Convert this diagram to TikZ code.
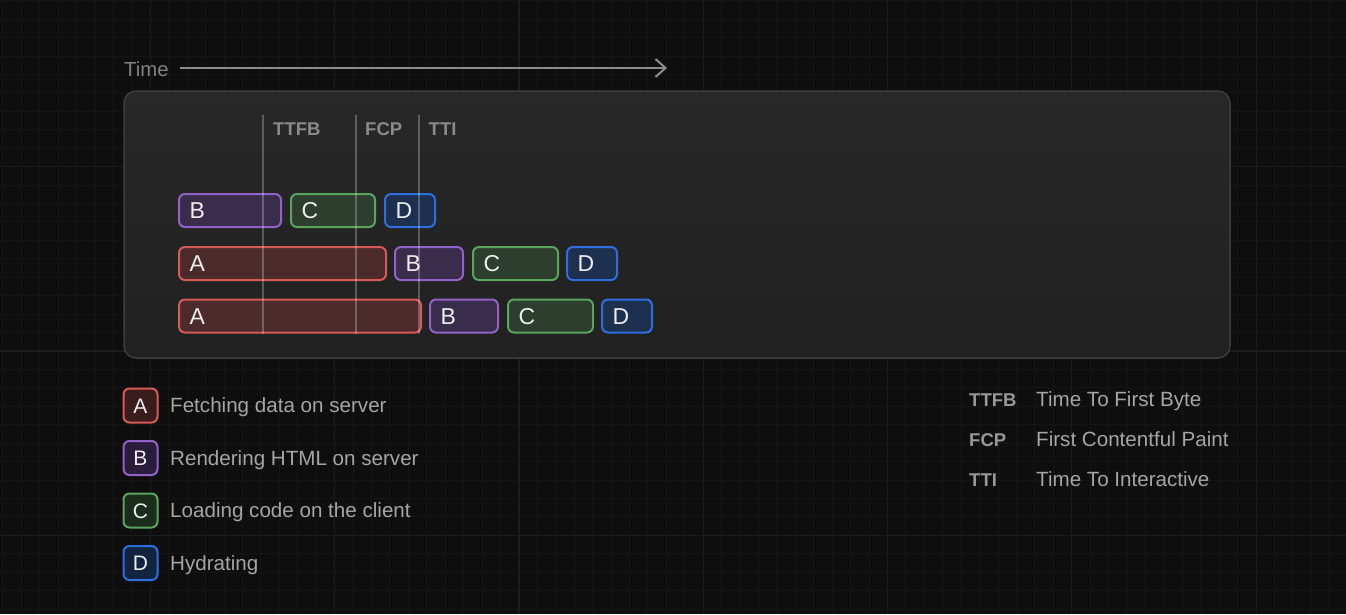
\documentclass[tikz,border=0pt]{standalone}
\usepackage{fontspec}
\setmainfont{Liberation Sans}
\usetikzlibrary{arrows.meta}
\definecolor{bg}{HTML}{0E0E0E}
\definecolor{gridminor}{HTML}{151515}
\definecolor{gridmajor}{HTML}{1C1C1C}
\definecolor{paneltop}{HTML}{282828}
\definecolor{panelbot}{HTML}{212121}
\definecolor{panelborder}{HTML}{3D3D3D}
\definecolor{redb}{HTML}{D85A56}
\definecolor{purpb}{HTML}{9162C9}
\definecolor{greenb}{HTML}{5AA55E}
\definecolor{blueb}{HTML}{2E6FE0}
\definecolor{redf}{HTML}{4B2B2B}
\definecolor{purpf}{HTML}{3A2C4B}
\definecolor{greenf}{HTML}{2D3D2E}
\definecolor{bluef}{HTML}{1E3050}
\definecolor{redl}{HTML}{3A1C1C}
\definecolor{purpl}{HTML}{2A1C3B}
\definecolor{greenl}{HTML}{1B2B1C}
\definecolor{bluel}{HTML}{132440}
\definecolor{txtgray}{HTML}{A5A5A5}
\definecolor{lblgray}{HTML}{8A8A8A}
\definecolor{arrowgray}{HTML}{8C8C8C}
\tikzset{
  bar/.style={draw, line width=2pt, rounded corners=6pt, minimum height=33pt,
    inner ysep=0pt, inner xsep=0pt, anchor=west, text width=#1, align=left,
    font=\fontsize{23}{23}\selectfont, text=white!93!black,
    text height=16.5pt, text depth=0pt},
  legbox/.style={draw, line width=2pt, rounded corners=6pt, minimum width=34pt,
    minimum height=34pt, inner sep=0pt, align=center,
    font=\fontsize{21}{21}\selectfont, text=white!93!black,
    text height=15pt, text depth=0pt},
  legtext/.style={anchor=base west, inner sep=0pt, text=txtgray,
    font=\fontsize{20.6}{24}\selectfont},
  abbr/.style={anchor=base west, inner sep=0pt, text=txtgray!92!black,
    font=\fontsize{18.5}{22}\selectfont\bfseries},
  tlabel/.style={anchor=base west, inner sep=0pt, text=lblgray,
    font=\fontsize{18.5}{22}\selectfont\bfseries},
  vline/.style={draw=white, draw opacity=0.25, line width=2pt},
}
\begin{document}
\begin{tikzpicture}[x=1pt,y=-1pt]
\useasboundingbox (0,0) rectangle (1346,614);
\fill[bg] (0,0) rectangle (1346,614);
% grid
\foreach \i in {-8,...,65}
  \draw[gridminor, line width=1pt] ({150.3+18.43*\i},0) -- ({150.3+18.43*\i},614);
\foreach \j in {-29,...,4}
  \draw[gridminor, line width=1pt] (0,{535.3+18.43*\j}) -- (1346,{535.3+18.43*\j});
\foreach \i in {0,...,6}
  \draw[gridmajor, line width=1.2pt] ({150.3+184.3*\i},0) -- ({150.3+184.3*\i},614);
\foreach \j in {0,...,2}
  \draw[gridmajor, line width=1.2pt] (0,{535.3-184.3*\j}) -- (1346,{535.3-184.3*\j});

% time axis
\node[anchor=base west, inner sep=0pt, text=arrowgray!110!white, font=\fontsize{20.3}{24}\selectfont] (time) at (124,76) {Time};
\coordinate (ts) at (180,68);
\coordinate (te) at (667,68);
\draw[arrowgray, line width=2pt, -{Straight Barb[length=10pt,width=18pt,line width=2pt]}] (ts) -- (te);

% panel
\node[draw=panelborder, line width=1.5pt, rounded corners=12pt, top color=paneltop, bottom color=panelbot,
  minimum width=1106pt, minimum height=267pt, inner sep=0pt] (panel) at (677,224.5) {};

% row 1
\node[bar=102pt, draw=purpb, fill=purpf] (b1) at (178,210.5) {\hspace*{10.5pt}B};
\node[bar=84pt, draw=greenb, fill=greenf] (c1) at (290,210.5) {\hspace*{10.5pt}C};
\node[bar=50pt, draw=blueb, fill=bluef] (d1) at (384,210.5) {\hspace*{10.5pt}D};
% row 2
\node[bar=207pt, draw=redb, fill=redf] (a2) at (178,263.5) {\hspace*{10.5pt}A};
\node[bar=68pt, draw=purpb, fill=purpf] (b2) at (394,263.5) {\hspace*{10.5pt}B};
\node[bar=85pt, draw=greenb, fill=greenf] (c2) at (472,263.5) {\hspace*{10.5pt}C};
\node[bar=50pt, draw=blueb, fill=bluef] (d2) at (566,263.5) {\hspace*{10.5pt}D};
% row 3
\node[bar=242pt, draw=redb, fill=redf] (a3) at (178,316) {\hspace*{10.5pt}A};
\node[bar=68pt, draw=purpb, fill=purpf] (b3) at (429,316) {\hspace*{10.5pt}B};
\node[bar=85pt, draw=greenb, fill=greenf] (c3) at (507,316) {\hspace*{10.5pt}C};
\node[bar=50pt, draw=blueb, fill=bluef] (d3) at (601,316) {\hspace*{10.5pt}D};

% milestone lines
\draw[vline] (263,115) -- (263,334);
\draw[vline] (356,115) -- (356,334);
\draw[vline] (419,115) -- (419,334);
\node[tlabel] (lttfb) at (273,135) {TTFB};
\node[tlabel] (lfcp) at (365,135) {FCP};
\node[tlabel] (ltti) at (428.5,135) {TTI};

% left legend
\node[legbox, draw=redb, fill=redl] (la) at (140.5,405.5) {A};
\node[legbox, draw=purpb, fill=purpl] (lb) at (140.5,458) {B};
\node[legbox, draw=greenb, fill=greenl] (lc) at (140.5,510.5) {C};
\node[legbox, draw=blueb, fill=bluel] (ld) at (140.5,563) {D};
\node[legtext] (ta) at (170,412.5) {Fetching data on server};
\node[legtext] (tb) at (170,465) {Rendering HTML on server};
\node[legtext] (tc) at (170,517.5) {Loading code on the client};
\node[legtext] (td) at (170,570) {Hydrating};

% right legend
\node[abbr] (rttfb) at (969,406) {TTFB};
\node[abbr] (rfcp) at (969,446) {FCP};
\node[abbr] (rtti) at (969,486) {TTI};
\node[legtext] (dttfb) at (1036,406) {Time To First Byte};
\node[legtext] (dfcp) at (1036,446) {First Contentful Paint};
\node[legtext] (dtti) at (1036,486) {Time To Interactive};
\end{tikzpicture}
\end{document}
